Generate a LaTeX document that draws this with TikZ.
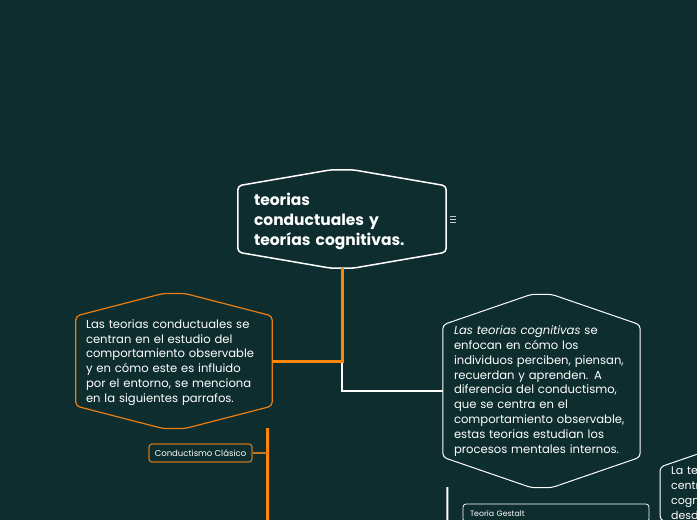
\documentclass[tikz,border=0pt]{standalone}
\usepackage{fontspec}
\setmainfont{Poppins}
\usetikzlibrary{calc}
\definecolor{bg}{HTML}{0E2D2E}
\definecolor{org}{HTML}{FF8508}
\definecolor{orgline}{HTML}{E97F14}
\definecolor{orgbox}{HTML}{C97519}
\definecolor{icon}{HTML}{C5CFCF}
\definecolor{txtw}{HTML}{FFFFFF}
\newcommand{\hexoutline}[4]{\draw[#4] (#1.south west) -- (#1.north west) -- ($(#1.north)+(-#3,-#2)$) -- ($(#1.north)+(#3,-#2)$) -- (#1.north east) -- (#1.south east) -- ($(#1.south)+(#3,#2)$) -- ($(#1.south)+(-#3,#2)$) -- cycle;}
\tikzset{
  txt/.style={text=txtw, align=left, inner ysep=0pt},
  bodytext/.style={txt, font=\fontsize{11.6}{14.9}\selectfont},
  smallbox/.style={draw, rounded corners=3pt, inner sep=0pt, text=txtw},
  orgtrunk/.style={org, line width=3pt},
  whitetrunk/.style={white, line width=2pt},
}
\begin{document}
\begin{tikzpicture}[x=1pt,y=-1pt]
\fill[bg] (0,0) rectangle (697,520);
\useasboundingbox (0,0) rectangle (697,520);
\clip (0,0) rectangle (697,520);

% nodes
\node[txt, font=\bfseries\fontsize{15.5}{20}\selectfont, text width=176pt, inner xsep=16pt, minimum height=66pt] (main) at (342,219) {\rule{0pt}{17pt}teorias\\conductuales y\\teorías cognitivas.};
\node[bodytext, text width=176pt, inner xsep=10pt, minimum height=88pt] (lnode) at (174,361) {\rule{0pt}{12pt}Las teorias conductuales se\\centran en el estudio del\\comportamiento observable\\y en cómo este es influido\\por el entorno, se menciona\\en la siguientes parrafos.};
\node[bodytext, text width=175pt, inner xsep=11pt, minimum height=132pt] (rnode) at (541.5,391) {\textit{Las teorias cognitivas} se\\enfocan en cómo los\\individuos perciben, piensan,\\recuerdan y aprenden. A\\diferencia del conductismo,\\que se centra en el\\comportamiento observable,\\estas teorias estudian los\\procesos mentales internos.};
\node[txt, font=\fontsize{11}{14.9}\selectfont, anchor=north west, text width=175pt, inner xsep=11pt] (fnode) at (660,467) {La te\\centr\\cogn\\desd};
\node[smallbox, draw=orgbox, line width=1.2pt, minimum width=103pt, minimum height=18pt, font=\fontsize{8.5}{9}\selectfont] (cc) at (200.5,453) {Conductismo Clásico};
\node[smallbox, draw=white, line width=0.8pt, minimum width=186pt, minimum height=18pt, text width=172pt, align=left, font=\fontsize{7.8}{9}\selectfont] (tg) at (556,513) {Teoría Gestalt};

% outlines
\hexoutline{main}{16}{11}{white, line width=1.5pt, rounded corners=4pt}
\hexoutline{lnode}{22.5}{11}{orgline, line width=1.2pt, rounded corners=4pt}
\hexoutline{rnode}{30.5}{10}{white, line width=1pt, rounded corners=4pt}
\hexoutline{fnode}{30.5}{10}{white, line width=1pt, rounded corners=4pt}

% connectors
\coordinate (mainB) at ($(main.south)+(0,16)$);
\draw[whitetrunk] (mainB) |- (rnode.west);
\draw[orgtrunk] (mainB) |- (lnode.east);
\coordinate (ltop) at ($(lnode.south east)+(-4.5,22)$);
\coordinate (lbot) at (267.5,530);
\draw[orgtrunk] (ltop) -- (lbot);
\draw[orgbox, line width=2pt] (cc.east) -- (cc.east -| ltop);
\coordinate (rtop) at ($(rnode.south west)+(4.5,30)$);
\coordinate (rbot) at (447.5,530);
\draw[whitetrunk] (rtop) -- (rbot);

% menu icon
\foreach \yy in {216,219,222} \draw[icon, line width=0.9pt] (450,\yy) -- (456,\yy);
\end{tikzpicture}
\end{document}
